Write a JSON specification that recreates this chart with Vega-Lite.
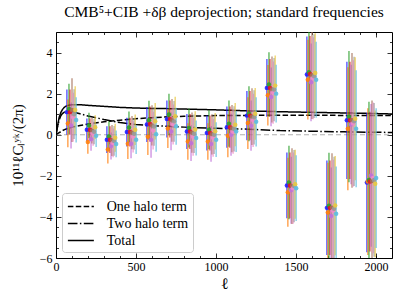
{
"$schema": "https://vega.github.io/schema/vega-lite/v6.json",
"width": 336, "height": 226,
"autosize": {"type": "none"},
"padding": {"left": 56, "top": 32, "right": 15, "bottom": 47},
"background": "white",
"title": {"text": "CMB⁵+CIB +δβ deprojection; standard frequencies", "font": "Liberation Serif", "fontSize": 15.5, "fontWeight": "normal", "color": "black", "offset": 11, "anchor": "middle", "frame": "group"},
"config": {
 "font": "Liberation Serif",
 "view": {"stroke": "black", "strokeWidth": 1},
 "axis": {"domain": false, "grid": false, "labelFont": "Liberation Serif", "labelFontSize": 12, "labelColor": "black", "titleFont": "Liberation Serif", "titleFontWeight": "normal", "titleColor": "black", "tickColor": "black", "tickWidth": 0.8, "zindex": 1, "labelFlush": false, "labelOverlap": false, "format": "d"},
 "legend": {"orient": "bottom-left", "offset": 6, "fillColor": "white", "strokeColor": "#cccccc", "cornerRadius": 3, "padding": 4, "labelFont": "Liberation Serif", "labelFontSize": 14, "labelColor": "black", "symbolStrokeColor": "black", "symbolStrokeWidth": 1.5, "symbolSize": 300, "symbolType": "M-0.88,0H2.12", "symbolFillColor": "transparent", "rowPadding": 0, "labelOffset": 21.7}
},
"datasets": {
 "curves": [
  {"term":"One halo term","l":0,"v":0},{"term":"One halo term","l":10,"v":0.05},{"term":"One halo term","l":20,"v":0.1},{"term":"One halo term","l":30,"v":0.15},{"term":"One halo term","l":40,"v":0.2},{"term":"One halo term","l":60,"v":0.27},{"term":"One halo term","l":80,"v":0.32},{"term":"One halo term","l":100,"v":0.37},{"term":"One halo term","l":150,"v":0.45},{"term":"One halo term","l":200,"v":0.52},{"term":"One halo term","l":300,"v":0.63},{"term":"One halo term","l":400,"v":0.71},{"term":"One halo term","l":500,"v":0.78},{"term":"One halo term","l":600,"v":0.83},{"term":"One halo term","l":700,"v":0.87},{"term":"One halo term","l":800,"v":0.9},{"term":"One halo term","l":1000,"v":0.93},{"term":"One halo term","l":1200,"v":0.94},{"term":"One halo term","l":1400,"v":0.95},{"term":"One halo term","l":1600,"v":0.95},{"term":"One halo term","l":1800,"v":0.94},{"term":"One halo term","l":2000,"v":0.93},{"term":"One halo term","l":2100,"v":0.93},
  {"term":"Two halo term","l":0,"v":0},{"term":"Two halo term","l":10,"v":0.4},{"term":"Two halo term","l":20,"v":0.72},{"term":"Two halo term","l":30,"v":0.92},{"term":"Two halo term","l":40,"v":1.03},{"term":"Two halo term","l":50,"v":1.09},{"term":"Two halo term","l":60,"v":1.12},{"term":"Two halo term","l":80,"v":1.14},{"term":"Two halo term","l":100,"v":1.12},{"term":"Two halo term","l":150,"v":1.02},{"term":"Two halo term","l":200,"v":0.91},{"term":"Two halo term","l":300,"v":0.74},{"term":"Two halo term","l":400,"v":0.59},{"term":"Two halo term","l":500,"v":0.5},{"term":"Two halo term","l":600,"v":0.44},{"term":"Two halo term","l":700,"v":0.41},{"term":"Two halo term","l":800,"v":0.37},{"term":"Two halo term","l":1000,"v":0.31},{"term":"Two halo term","l":1200,"v":0.27},{"term":"Two halo term","l":1400,"v":0.2},{"term":"Two halo term","l":1600,"v":0.17},{"term":"Two halo term","l":1800,"v":0.14},{"term":"Two halo term","l":2000,"v":0.12},{"term":"Two halo term","l":2100,"v":0.11},
  {"term":"Total","l":0,"v":0},{"term":"Total","l":10,"v":0.45},{"term":"Total","l":20,"v":0.85},{"term":"Total","l":30,"v":1.08},{"term":"Total","l":40,"v":1.22},{"term":"Total","l":50,"v":1.32},{"term":"Total","l":60,"v":1.38},{"term":"Total","l":80,"v":1.44},{"term":"Total","l":100,"v":1.46},{"term":"Total","l":150,"v":1.46},{"term":"Total","l":200,"v":1.43},{"term":"Total","l":300,"v":1.38},{"term":"Total","l":400,"v":1.33},{"term":"Total","l":500,"v":1.3},{"term":"Total","l":600,"v":1.28},{"term":"Total","l":700,"v":1.27},{"term":"Total","l":800,"v":1.25},{"term":"Total","l":1000,"v":1.21},{"term":"Total","l":1200,"v":1.16},{"term":"Total","l":1400,"v":1.12},{"term":"Total","l":1600,"v":1.09},{"term":"Total","l":1800,"v":1.06},{"term":"Total","l":2000,"v":1.03},{"term":"Total","l":2100,"v":1.01}
 ],
 "pts": [
  {"l":68,"s":"a","y":1.10,"lo":0.00,"hi":2.20},{"l":74,"s":"b","y":0.55,"lo":-0.61,"hi":1.71},{"l":81,"s":"c","y":1.25,"lo":0.02,"hi":2.48},{"l":87,"s":"d","y":1.10,"lo":0.00,"hi":2.20},{"l":94,"s":"e","y":0.45,"lo":-0.67,"hi":1.57},{"l":100,"s":"f","y":1.20,"lo":-0.35,"hi":2.75},{"l":107,"s":"g","y":0.85,"lo":-0.34,"hi":2.04},{"l":113,"s":"h","y":1.00,"lo":-0.21,"hi":2.21},{"l":120,"s":"i","y":1.20,"lo":0.04,"hi":2.36},{"l":126,"s":"j","y":0.72,"lo":-0.38,"hi":1.82},
  {"l":193,"s":"a","y":0.24,"lo":-0.31,"hi":0.79},{"l":199,"s":"b","y":-0.35,"lo":-0.93,"hi":0.23},{"l":206,"s":"c","y":0.45,"lo":-0.17,"hi":1.07},{"l":212,"s":"d","y":0.24,"lo":-0.31,"hi":0.79},{"l":219,"s":"e","y":-0.22,"lo":-0.78,"hi":0.34},{"l":225,"s":"f","y":0.20,"lo":-0.43,"hi":0.83},{"l":232,"s":"g","y":0.05,"lo":-0.54,"hi":0.64},{"l":238,"s":"h","y":0.15,"lo":-0.46,"hi":0.76},{"l":245,"s":"i","y":0.37,"lo":-0.21,"hi":0.95},{"l":251,"s":"j","y":-0.05,"lo":-0.60,"hi":0.50},
  {"l":318,"s":"a","y":-0.24,"lo":-0.89,"hi":0.41},{"l":324,"s":"b","y":-0.72,"lo":-1.40,"hi":-0.04},{"l":331,"s":"c","y":-0.08,"lo":-0.81,"hi":0.65},{"l":337,"s":"d","y":-0.24,"lo":-0.89,"hi":0.41},{"l":344,"s":"e","y":-0.55,"lo":-1.21,"hi":0.11},{"l":350,"s":"f","y":-0.28,"lo":-1.03,"hi":0.47},{"l":357,"s":"g","y":-0.40,"lo":-1.10,"hi":0.30},{"l":363,"s":"h","y":-0.30,"lo":-1.02,"hi":0.42},{"l":370,"s":"i","y":-0.15,"lo":-0.83,"hi":0.53},{"l":376,"s":"j","y":-0.45,"lo":-1.10,"hi":0.20},
  {"l":443,"s":"a","y":0.13,"lo":-0.57,"hi":0.83},{"l":449,"s":"b","y":-0.44,"lo":-1.18,"hi":0.30},{"l":456,"s":"c","y":0.35,"lo":-0.43,"hi":1.13},{"l":462,"s":"d","y":0.13,"lo":-0.57,"hi":0.83},{"l":469,"s":"e","y":-0.44,"lo":-1.15,"hi":0.27},{"l":475,"s":"f","y":0.10,"lo":-0.71,"hi":0.91},{"l":482,"s":"g","y":-0.10,"lo":-0.86,"hi":0.66},{"l":488,"s":"h","y":0.05,"lo":-0.72,"hi":0.82},{"l":495,"s":"i","y":0.24,"lo":-0.50,"hi":0.98},{"l":501,"s":"j","y":-0.24,"lo":-0.94,"hi":0.46},
  {"l":568,"s":"a","y":0.50,"lo":-0.35,"hi":1.35},{"l":574,"s":"b","y":-0.10,"lo":-0.99,"hi":0.79},{"l":581,"s":"c","y":0.70,"lo":-0.25,"hi":1.65},{"l":587,"s":"d","y":0.52,"lo":-0.33,"hi":1.37},{"l":594,"s":"e","y":-0.25,"lo":-1.12,"hi":0.62},{"l":600,"s":"f","y":0.45,"lo":-0.53,"hi":1.43},{"l":607,"s":"g","y":0.20,"lo":-0.72,"hi":1.12},{"l":613,"s":"h","y":0.40,"lo":-0.54,"hi":1.34},{"l":620,"s":"i","y":0.66,"lo":-0.23,"hi":1.55},{"l":626,"s":"j","y":0.02,"lo":-0.83,"hi":0.87},
  {"l":693,"s":"a","y":0.76,"lo":-0.14,"hi":1.66},{"l":699,"s":"b","y":0.30,"lo":-0.65,"hi":1.25},{"l":706,"s":"c","y":0.98,"lo":-0.03,"hi":1.99},{"l":712,"s":"d","y":0.76,"lo":-0.14,"hi":1.66},{"l":719,"s":"e","y":0.16,"lo":-0.76,"hi":1.08},{"l":725,"s":"f","y":0.70,"lo":-0.34,"hi":1.74},{"l":732,"s":"g","y":0.50,"lo":-0.47,"hi":1.47},{"l":738,"s":"h","y":0.65,"lo":-0.34,"hi":1.64},{"l":745,"s":"i","y":0.90,"lo":-0.05,"hi":1.85},{"l":751,"s":"j","y":0.41,"lo":-0.49,"hi":1.31},
  {"l":818,"s":"a","y":0.16,"lo":-0.69,"hi":1.01},{"l":824,"s":"b","y":-0.33,"lo":-1.22,"hi":0.56},{"l":831,"s":"c","y":0.33,"lo":-0.62,"hi":1.28},{"l":837,"s":"d","y":0.16,"lo":-0.69,"hi":1.01},{"l":844,"s":"e","y":-0.41,"lo":-1.28,"hi":0.46},{"l":850,"s":"f","y":0.10,"lo":-0.88,"hi":1.08},{"l":857,"s":"g","y":-0.10,"lo":-1.02,"hi":0.82},{"l":863,"s":"h","y":0.05,"lo":-0.89,"hi":0.99},{"l":870,"s":"i","y":0.25,"lo":-0.64,"hi":1.14},{"l":876,"s":"j","y":-0.16,"lo":-1.01,"hi":0.69},
  {"l":943,"s":"a","y":0.08,"lo":-0.77,"hi":0.93},{"l":949,"s":"b","y":-0.33,"lo":-1.22,"hi":0.56},{"l":956,"s":"c","y":0.24,"lo":-0.71,"hi":1.19},{"l":962,"s":"d","y":0.08,"lo":-0.77,"hi":0.93},{"l":969,"s":"e","y":-0.45,"lo":-1.32,"hi":0.42},{"l":975,"s":"f","y":0.02,"lo":-0.96,"hi":1.00},{"l":982,"s":"g","y":-0.15,"lo":-1.07,"hi":0.77},{"l":988,"s":"h","y":0.00,"lo":-0.94,"hi":0.94},{"l":995,"s":"i","y":0.17,"lo":-0.72,"hi":1.06},{"l":1001,"s":"j","y":-0.24,"lo":-1.09,"hi":0.61},
  {"l":1068,"s":"a","y":0.37,"lo":-0.63,"hi":1.37},{"l":1074,"s":"b","y":-0.05,"lo":-1.10,"hi":1.00},{"l":1081,"s":"c","y":0.54,"lo":-0.58,"hi":1.66},{"l":1087,"s":"d","y":0.37,"lo":-0.63,"hi":1.37},{"l":1094,"s":"e","y":0.00,"lo":-1.02,"hi":1.02},{"l":1100,"s":"f","y":0.30,"lo":-0.85,"hi":1.45},{"l":1107,"s":"g","y":0.15,"lo":-0.93,"hi":1.23},{"l":1113,"s":"h","y":0.28,"lo":-0.82,"hi":1.38},{"l":1120,"s":"i","y":0.49,"lo":-0.56,"hi":1.54},{"l":1126,"s":"j","y":0.16,"lo":-0.84,"hi":1.16},
  {"l":1193,"s":"a","y":0.93,"lo":-0.27,"hi":2.13},{"l":1199,"s":"b","y":0.57,"lo":-0.69,"hi":1.83},{"l":1206,"s":"c","y":1.02,"lo":-0.32,"hi":2.36},{"l":1212,"s":"d","y":0.93,"lo":-0.27,"hi":2.13},{"l":1219,"s":"e","y":0.44,"lo":-0.78,"hi":1.66},{"l":1225,"s":"f","y":0.88,"lo":-0.50,"hi":2.26},{"l":1232,"s":"g","y":0.70,"lo":-0.60,"hi":2.00},{"l":1238,"s":"h","y":0.85,"lo":-0.47,"hi":2.17},{"l":1245,"s":"i","y":1.02,"lo":-0.24,"hi":2.28},{"l":1251,"s":"j","y":0.63,"lo":-0.57,"hi":1.83},
  {"l":1318,"s":"a","y":2.28,"lo":0.88,"hi":3.68},{"l":1324,"s":"b","y":1.92,"lo":0.45,"hi":3.39},{"l":1331,"s":"c","y":2.44,"lo":0.87,"hi":4.01},{"l":1337,"s":"d","y":2.28,"lo":0.88,"hi":3.68},{"l":1344,"s":"e","y":1.84,"lo":0.41,"hi":3.27},{"l":1350,"s":"f","y":2.20,"lo":0.59,"hi":3.81},{"l":1357,"s":"g","y":2.05,"lo":0.54,"hi":3.56},{"l":1363,"s":"h","y":2.20,"lo":0.66,"hi":3.74},{"l":1370,"s":"i","y":2.39,"lo":0.92,"hi":3.86},{"l":1376,"s":"j","y":2.00,"lo":0.60,"hi":3.40},
  {"l":1443,"s":"a","y":-2.47,"lo":-4.07,"hi":-0.87},{"l":1449,"s":"b","y":-2.80,"lo":-4.48,"hi":-1.12},{"l":1456,"s":"c","y":-2.33,"lo":-4.12,"hi":-0.54},{"l":1462,"s":"d","y":-2.47,"lo":-4.07,"hi":-0.87},{"l":1469,"s":"e","y":-2.70,"lo":-4.33,"hi":-1.07},{"l":1475,"s":"f","y":-2.50,"lo":-4.34,"hi":-0.66},{"l":1482,"s":"g","y":-2.60,"lo":-4.33,"hi":-0.87},{"l":1488,"s":"h","y":-2.50,"lo":-4.26,"hi":-0.74},{"l":1495,"s":"i","y":-2.41,"lo":-4.09,"hi":-0.73},{"l":1501,"s":"j","y":-2.60,"lo":-4.20,"hi":-1.00},
  {"l":1568,"s":"a","y":2.93,"lo":1.08,"hi":4.78},{"l":1574,"s":"b","y":2.68,"lo":0.74,"hi":4.62},{"l":1581,"s":"c","y":3.04,"lo":0.97,"hi":5.11},{"l":1587,"s":"d","y":2.96,"lo":1.11,"hi":4.81},{"l":1594,"s":"e","y":2.55,"lo":0.66,"hi":4.44},{"l":1600,"s":"f","y":2.90,"lo":0.77,"hi":5.03},{"l":1607,"s":"g","y":2.75,"lo":0.75,"hi":4.75},{"l":1613,"s":"h","y":2.85,"lo":0.81,"hi":4.89},{"l":1620,"s":"i","y":3.00,"lo":1.06,"hi":4.94},{"l":1626,"s":"j","y":2.68,"lo":0.83,"hi":4.53},
  {"l":1693,"s":"a","y":-3.56,"lo":-5.86,"hi":-1.26},{"l":1699,"s":"b","y":-3.79,"lo":-6.21,"hi":-1.37},{"l":1706,"s":"c","y":-3.46,"lo":-6.04,"hi":-0.88},{"l":1712,"s":"d","y":-3.56,"lo":-5.86,"hi":-1.26},{"l":1719,"s":"e","y":-3.95,"lo":-6.30,"hi":-1.60},{"l":1725,"s":"f","y":-3.55,"lo":-6.20,"hi":-0.90},{"l":1732,"s":"g","y":-3.70,"lo":-6.18,"hi":-1.22},{"l":1738,"s":"h","y":-3.60,"lo":-6.13,"hi":-1.07},{"l":1745,"s":"i","y":-3.45,"lo":-5.87,"hi":-1.03},{"l":1751,"s":"j","y":-3.85,"lo":-6.15,"hi":-1.55},
  {"l":1818,"s":"a","y":0.70,"lo":-2.15,"hi":3.55},{"l":1824,"s":"b","y":0.29,"lo":-2.70,"hi":3.28},{"l":1831,"s":"c","y":0.88,"lo":-2.31,"hi":4.07},{"l":1837,"s":"d","y":0.70,"lo":-2.15,"hi":3.55},{"l":1844,"s":"e","y":0.50,"lo":-2.41,"hi":3.41},{"l":1850,"s":"f","y":0.70,"lo":-2.58,"hi":3.98},{"l":1857,"s":"g","y":0.55,"lo":-2.53,"hi":3.63},{"l":1863,"s":"h","y":0.65,"lo":-2.49,"hi":3.79},{"l":1870,"s":"i","y":0.78,"lo":-2.21,"hi":3.77},{"l":1876,"s":"j","y":0.29,"lo":-2.56,"hi":3.14},
  {"l":1943,"s":"a","y":-2.32,"lo":-5.72,"hi":1.08},{"l":1949,"s":"b","y":-2.28,"lo":-5.85,"hi":1.29},{"l":1956,"s":"c","y":-2.20,"lo":-6.01,"hi":1.61},{"l":1962,"s":"d","y":-2.28,"lo":-5.68,"hi":1.12},{"l":1969,"s":"e","y":-1.98,"lo":-5.45,"hi":1.49},{"l":1975,"s":"f","y":-2.25,"lo":-6.16,"hi":1.66},{"l":1982,"s":"g","y":-2.10,"lo":-5.77,"hi":1.57},{"l":1988,"s":"h","y":-2.20,"lo":-5.94,"hi":1.54},{"l":1995,"s":"i","y":-2.39,"lo":-5.96,"hi":1.18},{"l":2001,"s":"j","y":-2.11,"lo":-5.51,"hi":1.29}
 ]
},
"layer": [
 {
  "data": {"values": [{}]},
  "mark": {"type": "rule", "color": "#b0b0b0", "strokeDash": [5, 3], "strokeWidth": 1.2},
  "encoding": {
   "x": {"datum": 0, "type": "quantitative", "scale": {"domain": [0, 2100], "nice": false, "zero": false}, "axis": {"orient": "top", "values": [100,200,300,400,600,700,800,900,1100,1200,1300,1400,1600,1700,1800,1900,2000], "tickSize": -2.5, "labels": false, "title": null}},
   "x2": {"datum": 2100},
   "y": {"datum": 0, "type": "quantitative", "scale": {"domain": [-6, 5], "nice": false, "zero": false}, "axis": {"orient": "left", "values": [-6, -4, -2, 0, 2, 4], "tickSize": -5, "labelPadding": 9, "labelFont": "Liberation Serif", "title": "10¹¹ℓCₗʸᵏ/(2π)", "titleFont": "Liberation Serif", "titleFontSize": 15, "titlePadding": 14}}
  }
 },
 {
  "data": {"name": "curves"},
  "mark": {"type": "line", "color": "black", "strokeWidth": 1.5, "clip": true},
  "encoding": {
   "x": {"field": "l", "type": "quantitative", "scale": {"domain": [0, 2100], "nice": false, "zero": false}, "axis": {"orient": "top", "values": [0, 500, 1000, 1500, 2000], "tickSize": -5, "labels": false, "title": null}},
   "y": {"field": "v", "type": "quantitative", "scale": {"domain": [-6, 5], "nice": false, "zero": false}, "axis": {"orient": "right", "values": [-5.5,-5,-4.5,-3.5,-3,-2.5,-1.5,-1,-0.5,0.5,1,1.5,2.5,3,3.5,4.5], "tickSize": -2.5, "labels": false, "title": null}},
   "strokeDash": {"field": "term", "type": "nominal", "scale": {"domain": ["One halo term", "Two halo term", "Total"], "range": [[5.5, 2.4], [9.6, 2.4, 1.5, 2.4], [1, 0]]}, "legend": {"title": null, "labelFont": "Liberation Serif", "labelFontSize": 14}}
  }
 },
 {
  "data": {"name": "pts"},
  "mark": {"type": "rule", "strokeWidth": 1.5, "opacity": 0.7, "clip": true},
  "encoding": {
   "x": {"field": "l", "type": "quantitative", "scale": {"domain": [0, 2100], "nice": false, "zero": false}, "axis": {"orient": "bottom", "values": [0, 500, 1000, 1500, 2000], "tickSize": -5, "labelPadding": 8, "labelFont": "Liberation Serif", "format": "d", "title": "ℓ", "titleFont": "Liberation Serif", "titleFontSize": 16, "titlePadding": 3}},
   "y": {"field": "lo", "type": "quantitative", "scale": {"domain": [-6, 5], "nice": false, "zero": false}, "axis": {"orient": "left", "values": [-5.5,-5,-4.5,-3.5,-3,-2.5,-1.5,-1,-0.5,0.5,1,1.5,2.5,3,3.5,4.5], "tickSize": -2.5, "labels": false, "title": null}},
   "y2": {"field": "hi"},
   "color": {"field": "s", "type": "nominal", "scale": {"domain": ["a","b","c","d","e","f","g","h","i","j"], "range": ["#2020ff","#ff7f0e","#2ca02c","#e31a1c","#c070d8","#a6705a","#f08cc8","#999999","#e8c840","#5bbde0"]}, "legend": null}
  }
 },
 {
  "data": {"name": "pts"},
  "mark": {"type": "circle", "size": 20, "opacity": 0.9, "clip": true},
  "encoding": {
   "x": {"field": "l", "type": "quantitative", "scale": {"domain": [0, 2100], "nice": false, "zero": false}, "axis": {"orient": "bottom", "values": [100,200,300,400,600,700,800,900,1100,1200,1300,1400,1600,1700,1800,1900,2000], "tickSize": -2.5, "labels": false, "title": null}},
   "y": {"field": "y", "type": "quantitative", "scale": {"domain": [-6, 5], "nice": false, "zero": false}, "axis": {"orient": "right", "values": [-6, -4, -2, 0, 2, 4], "tickSize": -5, "labels": false, "title": null}},
   "color": {"field": "s", "type": "nominal", "scale": {"domain": ["a","b","c","d","e","f","g","h","i","j"], "range": ["#2020ff","#ff7f0e","#2ca02c","#e31a1c","#c070d8","#a6705a","#f08cc8","#999999","#e8c840","#5bbde0"]}, "legend": null}
  }
 }
],
"resolve": {"axis": {"x": "independent", "y": "independent"}}
}
